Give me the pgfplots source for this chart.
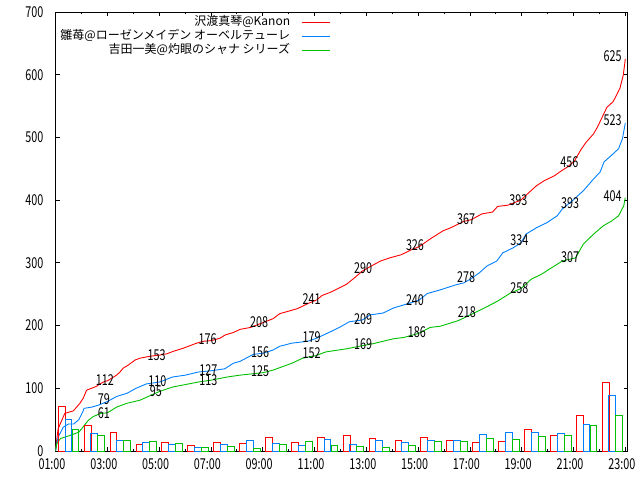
\documentclass[border=0pt]{standalone}
\usepackage{fontspec}
\setmainfont{Noto Sans CJK JP}
\usepackage{graphicx}
\usepackage{pgfplots}
\usepackage{pgfplotstable}
\pgfplotsset{compat=1.18}
\definecolor{gred}{RGB}{255,0,0}
\definecolor{gblue}{RGB}{0,128,255}
\definecolor{ggreen}{RGB}{0,192,0}
\newcommand\nf[1]{\scalebox{0.72}[1]{\fontsize{15}{15}\selectfont #1}}

\pgfplotstableread{
x y
1.00 0
1.04 15
1.10 35
1.20 45
1.36 60
1.69 64
1.94 76
2.07 84
2.20 97
2.39 100
2.58 103
2.71 107
2.90 111
3.01 112
3.36 121
3.49 126
3.61 132
3.81 137
4.07 145
4.26 148
4.64 151
5.02 153
5.30 155
5.55 159
5.94 164
6.45 172
6.71 175
7.02 176
7.36 180
7.55 185
7.87 189
8.13 194
8.53 197
9.03 205
9.40 211
9.66 219
10.00 223
10.34 227
10.74 235
11.09 241
11.29 248
11.61 253
11.86 258
12.24 266
12.54 276
12.85 287
13.15 294
13.55 303
13.91 308
14.35 313
14.75 321
15.05 326
15.46 338
15.96 351
16.26 356
16.76 366
17.06 369
17.46 378
17.87 381
18.07 390
18.47 392
18.97 400
19.17 408
19.57 423
19.87 431
20.27 439
20.47 445
20.77 453
21.03 462
21.28 480
21.48 492
21.78 506
21.93 517
22.15 536
22.29 548
22.53 557
22.79 578
22.92 599
22.97 615
23.00 625
}\redcum

\pgfplotstableread{
x y
1.00 0
1.05 12
1.10 22
1.30 38
1.50 43
1.70 43
1.90 50
2.05 62
2.10 68
2.40 70
2.65 73
3.01 79
3.36 87
3.76 92
4.11 100
4.51 107
5.02 110
5.52 118
6.02 121
6.52 126
7.02 128
7.53 131
7.87 140
8.13 143
8.63 154
9.03 156
9.40 161
9.66 167
10.13 172
10.74 175
11.09 180
11.61 190
12.00 198
12.34 206
12.85 209
13.15 217
13.65 220
14.05 228
14.45 233
14.85 238
15.05 241
15.35 251
15.86 257
16.46 265
16.76 268
17.06 275
17.36 284
17.66 295
18.04 303
18.27 316
18.67 324
18.97 332
19.17 346
19.57 356
19.97 364
20.37 375
20.57 386
20.98 400
21.38 415
21.78 434
22.03 445
22.18 461
22.48 472
22.74 482
22.89 498
22.96 514
23.00 523
}\bluecum

\pgfplotstableread{
x y
1.00 0
1.05 12
1.20 20
1.50 24
1.90 30
2.00 35
2.27 49
2.46 55
2.75 60
3.01 61
3.36 70
3.75 76
4.26 81
4.64 88
5.02 95
5.52 102
6.02 106
6.52 110
7.02 113
7.63 118
8.13 121
9.03 125
9.40 129
10.13 140
10.54 148
11.04 152
11.44 158
12.24 163
12.85 168
13.25 171
14.05 179
14.45 181
15.05 188
15.46 197
15.86 199
16.56 208
17.06 218
17.56 228
18.07 239
18.57 252
18.97 259
19.37 274
19.77 282
20.07 290
20.57 303
21.08 308
21.38 330
21.78 346
22.15 359
22.48 367
22.74 375
22.94 391
23.00 404
}\greencum

\pgfplotstableread{
xr xb xg r b g
1.24 1.50 1.77 71 51 35
2.24 2.50 2.77 41 28 25
3.24 3.50 3.77 30 17 17
4.24 4.50 4.77 11 14 16
5.24 5.50 5.77 14 11 12
6.24 6.50 6.77 9 6 6
7.24 7.50 7.77 14 11 8
8.24 8.50 8.77 12 17 4
9.24 9.50 9.77 22 12 11
10.24 10.50 10.77 14 9 16
11.24 11.50 11.77 21 19 9
12.24 12.50 12.77 25 11 8
13.24 13.50 13.77 20 17 5
14.24 14.50 14.77 17 14 9
15.24 15.50 15.77 21 17 16
16.24 16.50 16.77 17 17 16
17.24 17.50 17.77 14 27 20
18.24 18.50 18.77 16 30 19
19.24 19.50 19.77 35 30 24
20.24 20.50 20.77 25 28 25
21.24 21.50 21.77 57 43 41
22.24 22.50 22.77 110 88 56
}\bars

\pgfplotstableread{
x y t
2.91 113 112
4.90 153 153
6.87 178 176
8.86 205 208
10.89 242 241
12.88 291 290
14.88 329 326
16.85 370 367
18.87 400 393
20.84 461 456
22.51 630 625
2.87 82 79
4.93 112 110
6.90 129 127
8.90 158 156
10.89 181 179
12.88 211 209
14.88 241 240
16.85 277 278
18.91 337 334
20.87 396 393
22.51 527 523
2.87 60 61
4.88 96 95
6.90 113 113
8.90 128 125
10.89 156 152
12.88 170 169
14.95 189 186
16.88 221 218
18.91 260 258
20.87 309 307
22.51 407 404
}\labels

\begin{document}
\begin{tikzpicture}
\useasboundingbox (-55.5pt,-29pt) rectangle (584.5pt,451pt);
\begin{axis}[
  at={(0pt,0pt)}, anchor=south west,
  width=572pt, height=439pt, scale only axis,
  xmin=1, xmax=23.085, ymin=0, ymax=700,
  axis line style={line width=0.8pt},
  tick style={black, line width=0.8pt},
  tick align=inside, xtick pos=both, ytick pos=both,
  major tick length=4pt, minor tick length=2pt,
  xtick={1,3,...,23}, minor xtick={2,4,...,22},
  xticklabels={\nf{01:00},\nf{03:00},\nf{05:00},\nf{07:00},\nf{09:00},\nf{11:00},\nf{13:00},\nf{15:00},\nf{17:00},\nf{19:00},\nf{21:00},\nf{23:00}},
  ytick={0,100,...,700},
  yticklabels={\nf{0},\nf{100},\nf{200},\nf{300},\nf{400},\nf{500},\nf{600},\nf{700}},
  xticklabel style={anchor=center, inner sep=0pt, yshift=-13pt, xshift=-3.5pt},
  yticklabel style={anchor=east, inner sep=0pt, xshift=-12pt},
  legend plot pos=right,
  legend style={at={(axis description cs:0.4799,0.991)}, anchor=north east,
    draw=none, fill=none, inner sep=0pt, outer sep=0pt,
    row sep=0pt, column sep=0pt,
    font=\fontsize{12}{12}\selectfont,
    nodes={inner sep=0pt, text height=10pt, text depth=3.8pt},
    cells={anchor=east}},
]
\addplot[gred, line width=0.9pt, mark=none,
  legend image code/.code={\path (0pt,0pt); \draw[gred, line width=0.9pt] (11pt,0pt) -- (39pt,0pt);}]
  table[x=x,y=y] {\redcum};
\addlegendentry{沢渡真琴@Kanon}
\addplot[gblue, line width=0.9pt, mark=none,
  legend image code/.code={\path (0pt,0pt); \draw[gblue, line width=0.9pt] (11pt,0pt) -- (39pt,0pt);}]
  table[x=x,y=y] {\bluecum};
\addlegendentry{雛苺@ローゼンメイデン オーベルテューレ}
\addplot[ggreen, line width=0.9pt, mark=none,
  legend image code/.code={\path (0pt,0pt); \draw[ggreen, line width=0.9pt] (11pt,0pt) -- (39pt,0pt);}]
  table[x=x,y=y] {\greencum};
\addlegendentry{吉田一美@灼眼のシャナ シリーズ}

\addplot[ybar, bar width=0.263, bar shift=0pt, draw=gred, fill=none, line width=0.9pt, forget plot] table[x=xr,y=r] {\bars};
\addplot[ybar, bar width=0.263, bar shift=0pt, draw=gblue, fill=none, line width=0.9pt, forget plot] table[x=xb,y=b] {\bars};
\addplot[ybar, bar width=0.263, bar shift=0pt, draw=ggreen, fill=none, line width=0.9pt, forget plot] table[x=xg,y=g] {\bars};

\addplot[draw=none, mark=none, forget plot, point meta=explicit symbolic,
  nodes near coords={\nf{\pgfplotspointmeta}},
  every node near coord/.append style={anchor=center, inner sep=0pt, text=black}]
  table[x=x,y=y,meta=t] {\labels};
\end{axis}
\end{tikzpicture}
\end{document}
